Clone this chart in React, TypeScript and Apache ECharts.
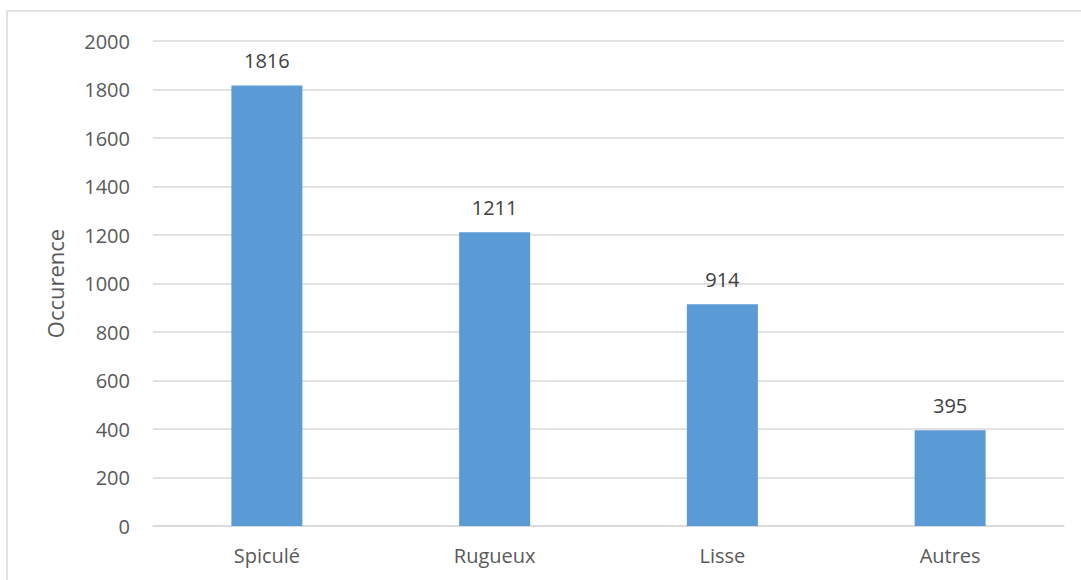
import React, { useEffect, useRef } from "react";
import * as echarts from "echarts";

const categories = ["Spiculé", "Rugueux", "Lisse", "Autres"];
const occurrences = [1816, 1211, 914, 395];
const yTicks = { min: 0, max: 2000, interval: 200 };
const yName = "Occurence";

export default function App() {
  const ref = useRef<HTMLDivElement>(null);
  useEffect(() => {
    if (!ref.current) return;
    const chart = echarts.init(ref.current, undefined, { renderer: "svg" });
    const font = "'Open Sans', 'Liberation Sans', sans-serif";
    chart.setOption({
      animation: false,
      backgroundColor: "#ffffff",
      textStyle: { fontFamily: font },
      graphic: [
        {
          type: "rect",
          shape: { x: 7, y: 11, width: 1120, height: 620 },
          style: { fill: "none", stroke: "#d9d9d9", lineWidth: 1.5 },
          silent: true,
        },
      ],
      grid: { left: 153, right: 17, top: 41, bottom: 54, containLabel: false },
      xAxis: {
        type: "category",
        data: categories,
        axisLine: { lineStyle: { color: "#d9d9d9", width: 1.5 } },
        axisTick: { show: false },
        axisLabel: { color: "#595959", fontSize: 20, margin: 19, fontFamily: font },
      },
      yAxis: {
        type: "value",
        min: yTicks.min,
        max: yTicks.max,
        interval: yTicks.interval,
        name: yName,
        nameLocation: "middle",
        nameRotate: 90,
        nameGap: 87,
        nameTextStyle: { color: "#595959", fontSize: 22, fontFamily: font },
        axisLine: { show: false },
        axisTick: { show: false },
        axisLabel: {
          color: "#595959",
          fontSize: 20,
          margin: 23,
          fontFamily: font,
          formatter: (v: number) => String(v),
        },
        splitLine: { lineStyle: { color: "#d9d9d9", width: 1.5 } },
      },
      series: [
        {
          type: "bar",
          data: occurrences,
          barWidth: 71,
          itemStyle: { color: "#5b9bd5" },
          label: {
            show: true,
            position: "top",
            distance: 15,
            color: "#404040",
            fontSize: 20,
            fontFamily: font,
          },
        },
      ],
    });
    return () => chart.dispose();
  }, []);
  return (
    <div
      ref={ref}
      style={{ position: "fixed", left: 0, top: 0, width: 1081, height: 580 }}
    />
  );
}
